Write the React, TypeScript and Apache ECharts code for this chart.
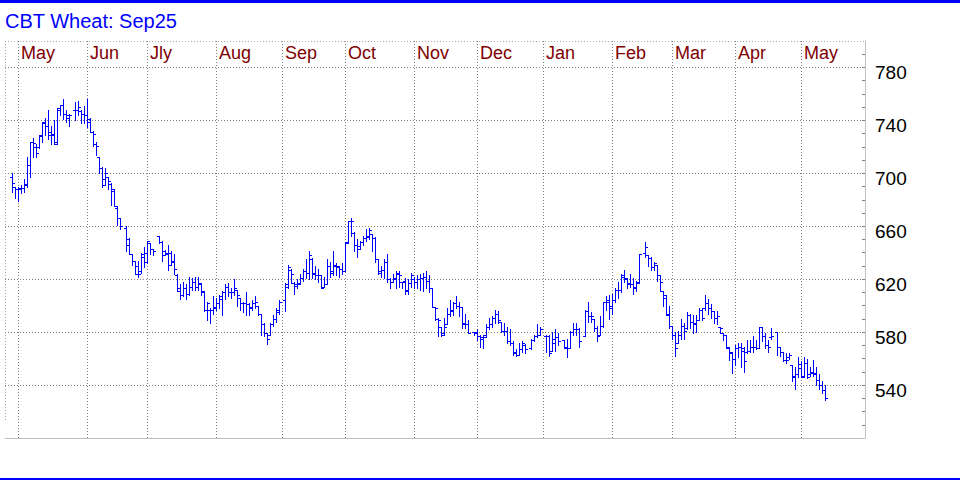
import React, { useEffect, useRef } from 'react';
import * as echarts from 'echarts';

// ---------- Text / axis definitions ----------
const chartTitle = 'CBT Wheat: Sep25';
const firstDay = '2024-04-29';
const lastDay = '2025-05-13';
const axisOrigin = '2024-05-01';
const holidays = [
  '2024-05-27', '2024-06-19', '2024-07-04', '2024-09-02', '2024-11-28', '2024-12-25',
  '2025-01-01', '2025-01-09', '2025-01-20', '2025-02-17', '2025-04-18',
];
const monthLabels = ['May', 'Jun', 'Jly', 'Aug', 'Sep', 'Oct', 'Nov', 'Dec', 'Jan', 'Feb', 'Mar', 'Apr', 'May'];
const monthStarts = [
  '2024-05-01', '2024-06-03', '2024-07-01', '2024-08-01', '2024-09-02', '2024-10-01', '2024-11-01',
  '2024-12-02', '2025-01-01', '2025-02-03', '2025-03-03', '2025-04-01', '2025-05-01',
];
const priceLabels = [540, 580, 620, 660, 700, 740, 780];
const priceMinorTicks = [510, 520, 530, 540, 550, 560, 570, 580, 590, 600, 610, 620, 630, 640, 650, 660, 670, 680, 690, 700, 710, 720, 730, 740, 750, 760, 770, 780, 790];
const priceMin = 500;
const priceMax = 800;

// ---------- Daily bars: [open, high, low, close] ----------
const apr24 = [[697, 700, 686, 693], [690, 690, 681, 688]];
const may24 = [
  [688, 690, 679, 689], [688, 691, 685, 689], [689, 696, 686, 691], [692, 712, 690, 706], [706, 724, 697, 724],
  [724, 727, 712, 723], [720, 722, 712, 715], [720, 729, 719, 729], [728, 739, 724, 739], [738, 742, 729, 736],
  [736, 748, 726, 729], [731, 736, 722, 729], [730, 740, 722, 722], [724, 749, 722, 749], [748, 752, 744, 752],
  [752, 756, 741, 745], [745, 748, 739, 744], [742, 745, 736, 744], [748, 754, 740, 748], [748, 755, 744, 750],
  [747, 748, 738, 745], [745, 751, 738, 744],
];
const jun24 = [
  [744, 756, 735, 739], [741, 742, 731, 731], [731, 732, 721, 730], [722, 724, 714, 721], [712, 712, 700, 704],
  [704, 705, 690, 691], [696, 704, 691, 700], [697, 697, 688, 694], [692, 693, 676, 688], [687, 688, 675, 675],
  [674, 675, 661, 666], [666, 666, 658, 660], [659, 660, 641, 646], [650, 651, 639, 639], [639, 639, 631, 634],
  [634, 634, 624, 624], [630, 634, 622, 624], [626, 640, 625, 639], [637, 644, 629, 640],
];
const jul24 = [
  [633, 649, 632, 649], [647, 647, 639, 643], [643, 643, 638, 641], [653, 653, 647, 648], [648, 649, 634, 638],
  [641, 642, 638, 639], [640, 646, 627, 631], [640, 641, 631, 633], [634, 639, 624, 628], [623, 624, 611, 611],
  [613, 616, 605, 608], [608, 618, 607, 613], [613, 616, 605, 609], [609, 622, 608, 614], [614, 621, 612, 618],
  [618, 622, 612, 614], [614, 622, 612, 617], [616, 617, 608, 611], [610, 611, 596, 597], [597, 603, 589, 602],
  [597, 598, 587, 597], [597, 607, 594, 598],
];
const aug24 = [
  [599, 606, 597, 602], [602, 608, 598, 607], [605, 611, 593, 610], [610, 616, 605, 614], [614, 617, 607, 610],
  [610, 613, 606, 610], [610, 620, 608, 613], [612, 612, 600, 608], [606, 606, 597, 602], [602, 603, 595, 602],
  [602, 610, 593, 601], [601, 602, 593, 598], [599, 604, 597, 602], [602, 607, 598, 603], [600, 600, 593, 594],
  [594, 594, 578, 586], [586, 587, 577, 579], [579, 579, 571, 575], [578, 587, 578, 586], [586, 593, 585, 590],
  [590, 598, 588, 597], [595, 604, 594, 603],
];
const sep24 = [
  [604, 617, 596, 616], [614, 631, 613, 629], [627, 628, 617, 624], [617, 618, 609, 616], [615, 620, 613, 616],
  [617, 624, 616, 621], [621, 628, 619, 626], [626, 635, 621, 625], [625, 641, 620, 638], [635, 636, 621, 625],
  [624, 630, 620, 623], [623, 628, 618, 623], [623, 623, 613, 613], [614, 622, 614, 616], [616, 635, 616, 630],
  [630, 633, 622, 625], [626, 641, 623, 631], [630, 632, 623, 630], [629, 630, 622, 628], [628, 632, 624, 626],
];
const oct24 = [
  [626, 648, 626, 648], [647, 664, 647, 664], [664, 666, 653, 664], [655, 656, 641, 646], [646, 650, 637, 643],
  [645, 649, 643, 648], [648, 653, 646, 651], [651, 658, 649, 653], [652, 659, 650, 657], [654, 654, 641, 651],
  [651, 652, 633, 635], [635, 635, 624, 625], [626, 630, 622, 627], [627, 635, 621, 633], [633, 639, 618, 620],
  [620, 621, 613, 618], [618, 624, 618, 621], [620, 626, 613, 625], [624, 626, 614, 623], [618, 618, 613, 618],
  [619, 621, 609, 611], [612, 620, 609, 617], [617, 625, 614, 623],
];
const nov24 = [
  [620, 622, 613, 618], [618, 623, 613, 620], [620, 624, 612, 621], [621, 625, 611, 622], [622, 626, 613, 619],
  [619, 623, 610, 613], [613, 613, 599, 599], [599, 599, 589, 598], [590, 591, 577, 589], [584, 584, 577, 578],
  [579, 591, 578, 584], [586, 598, 586, 594], [594, 604, 592, 597], [596, 603, 593, 602], [602, 607, 598, 600],
  [600, 603, 592, 599], [599, 599, 583, 586], [587, 594, 583, 586], [586, 589, 579, 579], [580, 580, 578, 579],
];
const dec24 = [
  [580, 582, 574, 577], [577, 578, 569, 575], [576, 578, 568, 576], [578, 586, 576, 584], [584, 591, 582, 586],
  [586, 592, 584, 591], [591, 597, 587, 594], [594, 596, 587, 589], [588, 588, 580, 581], [581, 587, 578, 581],
  [581, 584, 572, 573], [573, 582, 570, 572], [572, 573, 563, 564], [565, 567, 562, 563], [563, 572, 563, 567],
  [567, 573, 565, 572], [570, 571, 564, 567], [568, 575, 567, 574], [574, 578, 573, 577], [577, 586, 576, 578],
  [578, 584, 578, 582],
];
const jan25 = [
  [577, 578, 565, 577], [577, 578, 562, 564], [566, 580, 566, 575], [572, 582, 566, 576], [576, 579, 570, 573],
  [574, 574, 568, 568], [569, 575, 561, 568], [568, 581, 568, 580], [580, 587, 578, 582], [582, 587, 578, 582],
  [582, 583, 569, 573], [577, 597, 577, 596], [596, 603, 588, 592], [592, 595, 588, 592], [590, 590, 581, 583],
  [583, 585, 573, 577], [578, 592, 578, 585], [585, 603, 584, 603], [603, 607, 597, 604], [603, 608, 590, 598],
];
const feb25 = [
  [600, 609, 594, 604], [604, 613, 603, 612], [612, 618, 606, 612], [612, 624, 610, 623], [622, 627, 618, 621],
  [620, 621, 613, 616], [617, 624, 614, 616], [616, 621, 609, 614], [613, 619, 611, 617], [618, 639, 617, 639],
  [640, 648, 637, 644], [638, 638, 630, 636], [636, 637, 627, 629], [629, 633, 627, 632], [631, 631, 619, 623],
  [623, 623, 611, 618], [611, 611, 600, 608], [606, 608, 593, 593], [594, 600, 583, 585],
];
const mar25 = [
  [585, 585, 575, 578], [578, 580, 562, 568], [572, 581, 572, 578], [578, 590, 575, 585], [585, 587, 575, 581],
  [583, 595, 582, 593], [593, 594, 583, 588], [588, 593, 579, 586], [587, 593, 580, 589], [589, 598, 589, 597],
  [597, 598, 589, 591], [598, 608, 597, 602], [602, 605, 594, 598], [598, 601, 591, 596], [596, 596, 587, 591],
  [591, 596, 586, 592], [584, 584, 579, 583], [579, 579, 574, 578], [578, 578, 568, 568], [569, 569, 559, 564],
  [565, 565, 549, 560],
];
const apr25 = [
  [560, 570, 555, 568], [568, 572, 561, 569], [569, 572, 554, 568], [566, 569, 550, 558], [565, 574, 564, 566],
  [566, 574, 565, 569], [569, 577, 565, 569], [569, 574, 567, 568], [568, 584, 568, 584], [584, 584, 573, 577],
  [577, 579, 568, 570], [570, 574, 565, 569], [576, 583, 575, 577], [580, 580, 563, 569], [569, 569, 562, 565],
  [565, 565, 558, 559], [559, 564, 557, 559], [561, 564, 560, 563], [555, 555, 543, 546], [547, 554, 537, 548],
  [548, 561, 546, 553],
];
const may25 = [
  [556, 558, 546, 546], [547, 561, 546, 557], [557, 560, 545, 546], [548, 554, 547, 549], [550, 559, 547, 548],
  [549, 554, 540, 544], [544, 548, 537, 540], [540, 543, 534, 536], [536, 540, 529, 530],
];

// ---------- Calendar (weekday axis with holiday gaps) ----------
const DAY = 86400000;
const parseDay = (s: string) => {
  const [y, m, d] = s.split('-').map(Number);
  return Date.UTC(y, m - 1, d);
};
const fmtDay = (t: number) => new Date(t).toISOString().slice(0, 10);

function buildCalendar() {
  const pos: Record<string, number> = {};
  const trading: string[] = [];
  let n = 0;
  for (let t = parseDay(firstDay); t <= parseDay(lastDay); t += DAY) {
    const dow = new Date(t).getUTCDay();
    if (dow === 0 || dow === 6) continue;
    const s = fmtDay(t);
    pos[s] = n++;
    if (!holidays.includes(s)) trading.push(s);
  }
  return { pos, trading };
}

const FONT = '"Liberation Sans", Arial, Helvetica, sans-serif';

export default function App() {
  const ref = useRef<HTMLDivElement>(null);

  useEffect(() => {
    if (!ref.current) return;
    const chart = echarts.init(ref.current, null, { renderer: 'svg' });

    const { pos, trading } = buildCalendar();
    const origin = pos[axisOrigin];
    const allBars = [
      ...apr24, ...may24, ...jun24, ...jul24, ...aug24, ...sep24, ...oct24,
      ...nov24, ...dec24, ...jan25, ...feb25, ...mar25, ...apr25, ...may25,
    ];
    const n = Math.min(allBars.length, trading.length);
    const barData: number[][] = [];
    for (let i = 0; i < n; i++) {
      barData.push([pos[trading[i]] - origin, ...allBars[i]]);
    }
    const monthData = monthStarts.map((s, i) => [pos[s] - origin, i]);
    const gridData = priceLabels.map((v) => [0, v]);

    const option: any = {
      animation: false,
      backgroundColor: '#ffffff',
      grid: { left: 5, right: 95, top: 41, bottom: 42, containLabel: false },
      xAxis: {
        type: 'value',
        min: -4.4,
        max: 282.2667,
        axisLine: { show: true, onZero: false, lineStyle: { color: '#c0c0c0', width: 1 } },
        axisTick: { show: false },
        axisLabel: { show: false },
        splitLine: { show: false },
      },
      yAxis: {
        type: 'value',
        position: 'right',
        min: priceMin,
        max: priceMax,
        axisLine: { show: true, onZero: false, lineStyle: { color: '#c0c0c0', width: 1 } },
        axisTick: {
          show: true,
          inside: true,
          length: 3,
          customValues: priceMinorTicks,
          lineStyle: { color: '#808080', width: 1 },
        },
        axisLabel: {
          show: true,
          customValues: priceLabels,
          color: '#000000',
          fontSize: 19,
          fontFamily: FONT,
          margin: 10,
          verticalAlign: 'top',
          lineHeight: 11,
        },
        splitLine: { show: false },
      },
      graphic: [
        { type: 'rect', shape: { x: 0, y: 0, width: 960, height: 3 }, style: { fill: '#0000ff' }, silent: true },
        { type: 'rect', shape: { x: 0, y: 478, width: 960, height: 2 }, style: { fill: '#0000ff' }, silent: true },
        {
          type: 'text', x: 5, y: 21,
          style: {
            text: chartTitle, fill: '#0000ff', fontSize: 20, fontFamily: FONT,
            textAlign: 'left', textVerticalAlign: 'middle', align: 'left', verticalAlign: 'middle',
          },
          silent: true,
        },
        {
          type: 'line', shape: { x1: 5, y1: 41.5, x2: 865, y2: 41.5 },
          style: { stroke: '#a8a8a8', lineWidth: 1, lineDash: [1, 2] }, silent: true,
        },
        {
          type: 'line', shape: { x1: 5.5, y1: 41, x2: 5.5, y2: 420 },
          style: { stroke: '#a8a8a8', lineWidth: 1, lineDash: [1, 2] }, silent: true,
        },
      ],
      series: [
        {
          type: 'custom',
          name: 'grid',
          silent: true,
          encode: { x: 0, y: 1 },
          data: gridData,
          z: 1,
          renderItem: (params: any, api: any) => {
            const cs = params.coordSys;
            const p = api.coord([0, api.value(1)]);
            const y = Math.round(p[1]) + 0.5;
            return {
              type: 'line',
              shape: { x1: cs.x, y1: y, x2: cs.x + cs.width - 2, y2: y },
              style: { stroke: '#808080', lineWidth: 1, lineDash: [1, 2] },
            };
          },
        },
        {
          type: 'custom',
          name: 'months',
          silent: true,
          encode: { x: 0, y: 1 },
          data: monthData,
          z: 2,
          renderItem: (params: any, api: any) => {
            const cs = params.coordSys;
            const p = api.coord([api.value(0), priceMax]);
            const x = Math.round(p[0]) + 0.5;
            const label = monthLabels[api.value(1)];
            return {
              type: 'group',
              children: [
                {
                  type: 'line',
                  shape: { x1: x, y1: cs.y, x2: x, y2: cs.y + cs.height },
                  style: { stroke: '#808080', lineWidth: 1, lineDash: [1, 2] },
                },
                {
                  type: 'text',
                  x: x + 2.5,
                  y: cs.y + 12,
                  style: {
                    text: label, fill: '#800000', fontSize: 18, fontFamily: FONT,
                    textAlign: 'left', textVerticalAlign: 'middle', align: 'left', verticalAlign: 'middle',
                  },
                },
              ],
            };
          },
        },
        {
          type: 'custom',
          name: 'Wheat',
          silent: true,
          encode: { x: 0, y: [1, 2, 3, 4] },
          data: barData,
          z: 3,
          renderItem: (params: any, api: any) => {
            const w = api.value(0);
            const o = api.coord([w, api.value(1)]);
            const h = api.coord([w, api.value(2)]);
            const l = api.coord([w, api.value(3)]);
            const c = api.coord([w, api.value(4)]);
            const x = Math.round(h[0]);
            const yh = Math.round(h[1]);
            const yl = Math.round(l[1]);
            const yo = Math.round(o[1]) + 0.5;
            const yc = Math.round(c[1]) + 0.5;
            const st = { stroke: '#0000ff', lineWidth: 1 };
            return {
              type: 'group',
              children: [
                { type: 'line', shape: { x1: x + 0.5, y1: yh, x2: x + 0.5, y2: yl + 1 }, style: st },
                { type: 'line', shape: { x1: x - 2, y1: yo, x2: x, y2: yo }, style: st },
                { type: 'line', shape: { x1: x + 1, y1: yc, x2: x + 3, y2: yc }, style: st },
              ],
            };
          },
        },
      ],
    };

    chart.setOption(option);
    return () => {
      chart.dispose();
    };
  }, []);

  return (
    <div
      ref={ref}
      style={{ position: 'fixed', left: 0, top: 0, width: 960, height: 480, background: '#ffffff' }}
    />
  );
}
